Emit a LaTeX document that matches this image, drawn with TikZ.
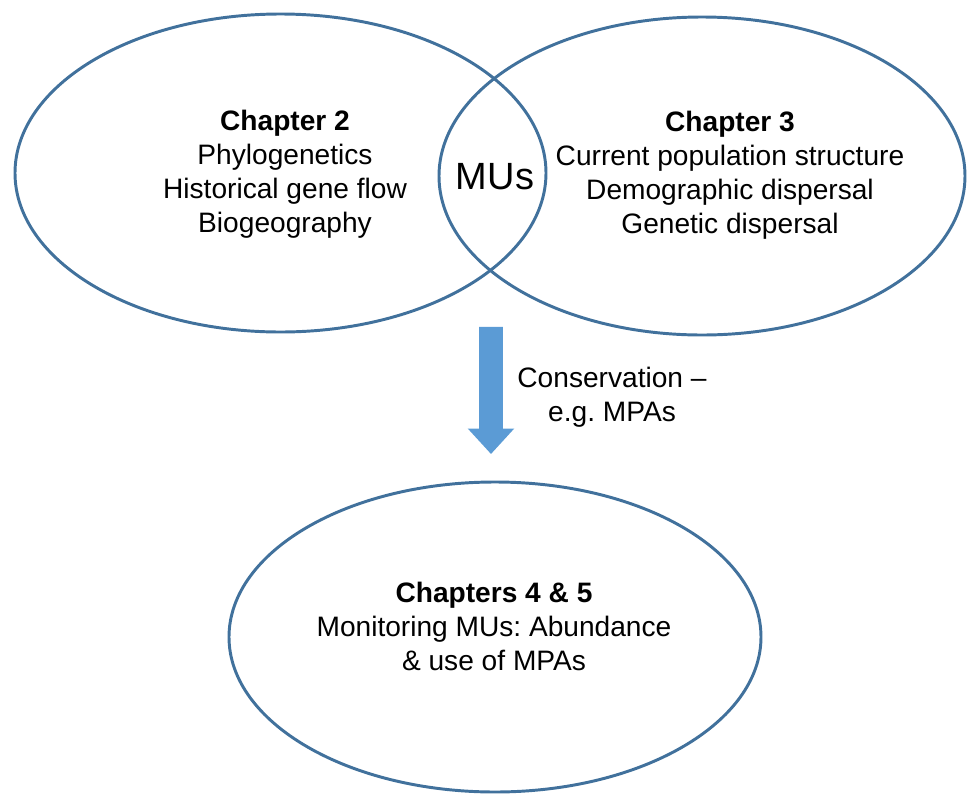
\documentclass[tikz,border=0pt]{standalone}
\usepackage{fontspec}
\setmainfont{Liberation Sans}
\usetikzlibrary{shapes.geometric,shapes.arrows}
\definecolor{ringblue}{RGB}{65,113,156}
\definecolor{arrowblue}{RGB}{91,155,213}
\frenchspacing
\begin{document}
\begin{tikzpicture}[
    ring/.style={ellipse, draw=ringblue, line width=2.1pt, inner sep=0pt, minimum width=13.25cm, minimum height=7.9cm},
    body/.style={align=center, font=\fontsize{20}{24.2}\selectfont},
    bigarrow/.style={single arrow, fill=arrowblue, draw=none, inner sep=0.2875cm, minimum height=3.175cm, single arrow head extend=0.2875cm, single arrow tip angle=85, shape border rotate=270}
]
\useasboundingbox (0,0) rectangle (24.175,-19.85);

% === TOP: overlapping chapters ===
\node[ring, minimum width=13.275cm, minimum height=7.95cm] (ch2) at (7.0125,-4.325) {};
\node[ring, minimum width=13.15cm, minimum height=7.95cm] (ch3) at (17.55,-4.4) {};

\node[body] (ch2text) at (7.125,-4.35) {\textbf{Chapter 2}\\Phylogenetics\\Historical gene flow\\Biogeography};
\node[body] (ch3text) at (18.25,-4.37) {\textbf{Chapter 3}\\Current population structure\\Demographic dispersal\\Genetic dispersal};
\node[font=\fontsize{27}{32}\selectfont] (mus) at (12.375,-4.425) {MUs};

% === MIDDLE: block arrow ===
\node[bigarrow] (down) at (12.275,-9.6) {};
\node[body] (cons) at (15.3,-9.925) {Conservation --\\e.g. MPAs};

% === BOTTOM: monitoring ===
\node[ring, minimum width=13.3cm, minimum height=7.75cm] (ch45) at (12.375,-15.925) {};
\node[body] (ch45text) at (12.35,-15.65) {\textbf{Chapters 4 \& 5}\\Monitoring MUs: Abundance\\\& use of MPAs};

\end{tikzpicture}
\end{document}
